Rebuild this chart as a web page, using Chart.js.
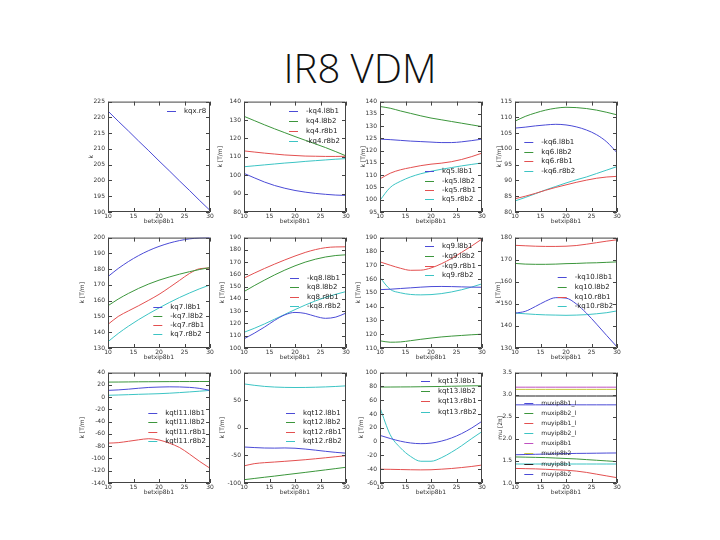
<!DOCTYPE html>
<html>
<head>
<meta charset="utf-8">
<script src="https://cdn.jsdelivr.net/npm/chart.js@4.4.0/dist/chart.umd.min.js"></script>
<style>
  body { margin: 0; background: #fff; width: 720px; height: 540px; position: relative; overflow: hidden; }
  #title { position: absolute; left: 0; width: 720px; top: 48px; text-align: center;
           font-family: "Open Sans"; font-weight: 300; font-size: 40px; line-height: 40px; color: #111; }
  canvas { position: absolute; }
</style>
</head>
<body>
<div id="title">IR8 VDM</div>
<script>
const betx = [10, 12, 14, 16, 18, 20, 22, 24, 26, 28, 30];
const xTicks = [10, 15, 20, 25, 30];

const kqxNames = ['kqx.r8'];
const kqxValues = [
  [222, 218.8, 215.7, 212.5, 209.4, 206.2, 203.1, 199.9, 196.8, 193.6, 190.5]
];

const kq4Names = ['-kq4.l8b1', 'kq4.l8b2', 'kq4.r8b1', '-kq4.r8b2'];
const kq4Values = [
  [101, 98.6, 96.3, 94.4, 92.9, 91.7, 90.8, 90.1, 89.6, 89.2, 89],
  [132, 129.7, 127.4, 125.2, 123.1, 121, 119, 117, 115, 112.8, 110.5],
  [113.2, 112.6, 112, 111.5, 111, 110.7, 110.4, 110.3, 110.2, 110.2, 110.3],
  [104.6, 105.1, 105.6, 106.1, 106.6, 107, 107.5, 107.9, 108.3, 108.7, 109]
];

const kq5Names = ['kq5.l8b1', '-kq5.l8b2', '-kq5.r8b1', 'kq5.r8b2'];
const kq5Values = [
  [124.7, 124.5, 124.2, 123.9, 123.7, 123.5, 123.3, 123.3, 123.6, 124.1, 124.7],
  [138, 137.3, 136.2, 135.2, 134.2, 133.3, 132.6, 131.9, 131.2, 130.5, 129.8],
  [108.5, 110.8, 112.2, 113.1, 113.9, 114.5, 114.9, 115.5, 116.4, 117.6, 119],
  [99.8, 105, 107.5, 109.3, 110.6, 111.6, 112.4, 113.1, 113.8, 114.4, 115]
];

const kq6Names = ['-kq6.l8b1', 'kq6.l8b2', 'kq6.r8b1', '-kq6.r8b2'];
const kq6Values = [
  [106.6, 106.9, 107.3, 107.6, 107.8, 107.6, 107, 106, 104.5, 102.2, 98.8],
  [108.8, 110.3, 111.4, 112.3, 112.9, 113.2, 113.1, 112.8, 112.3, 111.6, 110.8],
  [84.2, 85, 85.9, 86.9, 87.8, 88.6, 89.4, 90.1, 90.7, 91.1, 91.3],
  [83.5, 84.6, 85.8, 87, 88.1, 89.2, 90.2, 91.1, 92.2, 93.3, 94.4]
];

const kq7Names = ['kq7.l8b1', '-kq7.l8b2', '-kq7.r8b1', 'kq7.r8b2'];
const kq7Values = [
  [175.3, 180.4, 184.8, 188.6, 191.8, 194.4, 196.5, 198.1, 199.2, 199.8, 200],
  [156.8, 161, 164.6, 167.8, 170.6, 173, 175, 176.8, 178.4, 179.8, 181],
  [145, 150, 153.5, 156.8, 160.3, 164, 168.3, 172.8, 177.3, 180.3, 180.7],
  [134, 139.2, 143.8, 148, 151.8, 155.4, 158.8, 162, 164.9, 167.6, 170]
];

const kq8Names = ['-kq8.l8b1', 'kq8.l8b2', 'kq8.r8b1', '-kq8.r8b2'];
const kq8Values = [
  [107.5, 112, 117, 122.5, 127, 129, 128.2, 125.8, 124.2, 125.2, 128.5],
  [146, 150.8, 155.3, 159.6, 163.5, 167, 170, 172.4, 174.2, 175.4, 176],
  [157, 161, 164.8, 168.4, 171.8, 175, 177.9, 180.2, 181.8, 182.4, 182.5],
  [112.8, 116, 119.6, 123.5, 127.4, 131.3, 135, 138.4, 141.3, 143.8, 146]
];

const kq9Names = ['kq9.l8b1', '-kq9.l8b2', '-kq9.r8b1', 'kq9.r8b2'];
const kq9Values = [
  [152.3, 152.6, 153.1, 153.6, 154.1, 154.5, 154.6, 154.5, 154.3, 154.1, 154],
  [115.2, 114.2, 114.4, 115.3, 116.3, 117.2, 118, 118.6, 119.1, 119.6, 120],
  [172.4, 170, 167.8, 166.3, 166.4, 168, 171, 174.8, 179.3, 184, 189],
  [161, 152.5, 150, 148.8, 148.5, 148.7, 149.4, 150.6, 152.2, 154.2, 156.5]
];

const kq10Names = ['-kq10.l8b1', 'kq10.l8b2', 'kq10.r8b1', '-kq10.r8b2'];
const kq10Values = [
  [145.8, 146.6, 148.8, 151.2, 152.8, 152.6, 150, 145.8, 140.8, 135.6, 130.5],
  [168.3, 168, 167.9, 167.9, 168, 168.2, 168.3, 168.5, 168.6, 168.8, 169],
  [176.5, 176.3, 176.1, 176, 176, 176.1, 176.4, 177, 177.7, 178.4, 179],
  [145.8, 145.5, 145.2, 145, 144.9, 144.8, 144.9, 145.1, 145.5, 146, 146.8]
];

const kqtl11Names = ['kqtl11.l8b1', 'kqtl11.l8b2', 'kqtl11.r8b1', 'kqtl11.r8b2'];
const kqtl11Values = [
  [11, 11.8, 13, 14.5, 15.8, 16.4, 16.8, 16.6, 15.9, 14.2, 11],
  [24.5, 24.6, 24.8, 25, 25.1, 25.2, 25.3, 25.4, 25.4, 25.5, 25.5],
  [-75, -74.2, -72, -69.6, -67.8, -69.8, -75, -82, -93, -105, -116],
  [3, 3.5, 4, 4.6, 5.1, 5.6, 6.4, 7.4, 8.5, 9.7, 11]
];

const kqt12Names = ['kqt12.l8b1', 'kqt12.l8b2', 'kqt12.r8b1', 'kqt12.r8b2'];
const kqt12Values = [
  [-34.8, -35.8, -36.6, -36.8, -36.5, -37, -38.5, -40.5, -42.6, -44.5, -46],
  [-94, -91.8, -89.6, -87.5, -85.2, -83, -80.8, -78.5, -76.2, -73.9, -71.5],
  [-69, -65, -63.2, -62, -60.7, -59.3, -57.8, -56.1, -54.3, -52.4, -50.5],
  [79.5, 77, 75, 73.8, 73.2, 73, 73.1, 73.5, 74.1, 74.9, 76]
];

const kqt13Names = ['kqt13.l8b1', 'kqt13.l8b2', 'kqt13.r8b1', 'kqt13.r8b2'];
const kqt13Values = [
  [9, 4.5, 0.6, -2, -3, -2.2, 0.6, 5.2, 11.6, 19.8, 29.5],
  [79, 79.1, 79.2, 79.3, 79.5, 79.7, 79.9, 80.2, 80.5, 80.8, 81],
  [-40, -40.2, -40.5, -40.8, -41, -40.8, -40, -39, -37.6, -36, -34],
  [49, 10, -9, -21.5, -28.5, -28.5, -23.5, -15.5, -6, 4.5, 14.5]
];

const muNames = ['muxip8b1_l', 'muxip8b2_l', 'muyip8b1_l', 'muyip8b2_l',
                 'muxip8b1', 'muxip8b2', 'muyip8b1', 'muyip8b2'];
const muValues = [
  [1.64, 1.645, 1.65, 1.655, 1.66, 1.665, 1.67, 1.672, 1.675, 1.678, 1.68],
  [1.59, 1.585, 1.58, 1.575, 1.565, 1.555, 1.545, 1.53, 1.515, 1.5, 1.485],
  [1.33, 1.325, 1.32, 1.31, 1.3, 1.29, 1.27, 1.24, 1.2, 1.16, 1.12],
  [1.43, 1.43, 1.43, 1.43, 1.43, 1.43, 1.43, 1.43, 1.43, 1.43, 1.43],
  [3.17, 3.17, 3.17, 3.17, 3.17, 3.17, 3.17, 3.17, 3.17, 3.17, 3.17],
  [3.12, 3.12, 3.12, 3.12, 3.12, 3.12, 3.12, 3.12, 3.12, 3.12, 3.12],
  [2.97, 2.97, 2.97, 2.97, 2.97, 2.97, 2.97, 2.97, 2.97, 2.97, 2.97],
  [2.77, 2.77, 2.77, 2.77, 2.77, 2.77, 2.77, 2.77, 2.77, 2.77, 2.77]
];

// matplotlib's old colour cycle: b g r c m y k
const colors = ['#4b4bd6', '#3c963c', '#e35050', '#3cc4c4', '#c050c0', '#c8c83c', '#222222'];

const panels = [
  { names: kqxNames, values: kqxValues, min: 190, max: 225, step: 5, yTitle: 'k', gap: 17, leg: [59, 9, 10] },
  { names: kq4Names, values: kq4Values, min: 80, max: 140, step: 10, yTitle: 'k [T/m]', gap: 24, leg: [45, 9.7, 10] },
  { names: kq5Names, values: kq5Values, min: 95, max: 140, step: 5, yTitle: 'k [T/m]', gap: 17, leg: [45, 69.7, 9.3] },
  { names: kq6Names, values: kq6Values, min: 80, max: 115, step: 5, yTitle: 'k [T/m]', gap: 16, leg: [9.3, 40.7, 9.5] },
  { names: kq7Names, values: kq7Values, min: 130, max: 200, step: 10, yTitle: 'k [T/m]', gap: 26, leg: [45.3, 69, 9.2] },
  { names: kq8Names, values: kq8Values, min: 100, max: 190, step: 10, yTitle: 'k [T/m]', gap: 22, leg: [46, 40.3, 9.5] },
  { names: kq9Names, values: kq9Values, min: 110, max: 190, step: 10, yTitle: 'k [T/m]', gap: 22, leg: [45, 8.7, 9.7] },
  { names: kq10Names, values: kq10Values, min: 130, max: 180, step: 10, yTitle: 'k [T/m]', gap: 17, leg: [42.7, 39.7, 9.6] },
  { names: kqtl11Names, values: kqtl11Values, min: -140, max: 40, step: 20, yTitle: 'k [T/m]', gap: 26, leg: [40.3, 40.3, 9.5] },
  { names: kqt12Names, values: kqt12Values, min: -100, max: 100, step: 50, yTitle: 'k [T/m]', gap: 22, leg: [42, 40.3, 9.5] },
  { names: kqt13Names, values: kqt13Values, min: -60, max: 100, step: 20, yTitle: 'k [T/m]', gap: 19, leg: [41, 8, 10.3] },
  { names: muNames, values: muValues, min: 1.0, max: 3.5, step: 0.5, yTitle: 'mu [2\u03c0]', gap: 15, leg: [9.3, 30.3, 10.1], legFont: 6, dec: 1 }
];

const colLeft = [108, 244, 380, 515];
const rowTop = [101, 237, 372];
const plotW = 102, plotH = 111;
const yBox = 40, xBox = 13, padTop = 6, padRight = 8, padBottom = 2;
const fontFam = '"DejaVu Sans", sans-serif';

// frame + inward ticks on all four sides, like old matplotlib
const framePlugin = {
  id: 'frame',
  afterDatasetsDraw(chart) {
    const { ctx, chartArea: a, scales: { x, y } } = chart;
    ctx.save();
    ctx.strokeStyle = '#444';
    ctx.lineWidth = 1;
    ctx.beginPath();
    ctx.rect(a.left + 0.5, a.top + 0.5, a.width - 1, a.height - 1);
    x.ticks.forEach(t => {
      const px = Math.round(x.getPixelForValue(t.value)) + 0.5;
      ctx.moveTo(px, a.bottom); ctx.lineTo(px, a.bottom - 4);
      ctx.moveTo(px, a.top); ctx.lineTo(px, a.top + 4);
    });
    y.ticks.forEach(t => {
      const py = Math.round(y.getPixelForValue(t.value)) + 0.5;
      ctx.moveTo(a.left, py); ctx.lineTo(a.left + 4, py);
      ctx.moveTo(a.right, py); ctx.lineTo(a.right - 4, py);
    });
    ctx.stroke();
    ctx.restore();
  }
};

// legend drawn inside the axes, no box
const innerLegend = {
  id: 'innerLegend',
  afterDatasetsDraw(chart, args, opts) {
    const { ctx, chartArea: a } = chart;
    ctx.save();
    ctx.font = opts.size + 'px ' + fontFam;
    ctx.textBaseline = 'middle';
    chart.data.datasets.forEach((ds, i) => {
      const x = a.left + opts.dx;
      const y = Math.round(a.top + opts.dy + i * opts.row) + 0.5;
      ctx.strokeStyle = ds.borderColor;
      ctx.lineWidth = 1;
      ctx.beginPath(); ctx.moveTo(x, y); ctx.lineTo(x + 9, y); ctx.stroke();
      ctx.fillStyle = '#222';
      ctx.fillText(ds.label, x + 17, y);
    });
    ctx.restore();
  }
};

panels.forEach((p, idx) => {
  const L = colLeft[idx % 4], T = rowTop[Math.floor(idx / 4)];
  const cv = document.createElement('canvas');
  cv.width = yBox + plotW + padRight;
  cv.height = padTop + plotH + xBox + padBottom;
  cv.style.left = (L - yBox) + 'px';
  cv.style.top = (T - padTop) + 'px';
  document.body.appendChild(cv);

  const datasets = p.values.map((vals, i) => ({
    label: p.names[i],
    data: betx.map((x, j) => ({ x: x, y: vals[j] })),
    borderColor: colors[i % colors.length],
    borderWidth: 1,
    pointRadius: 0,
    fill: false,
    cubicInterpolationMode: 'monotone'
  }));

  new Chart(cv.getContext('2d'), {
    type: 'line',
    data: { datasets: datasets },
    plugins: [framePlugin, innerLegend],
    options: {
      responsive: false,
      animation: false,
      layout: { padding: { left: 0, top: padTop, right: padRight, bottom: padBottom } },
      plugins: {
        legend: { display: false },
        tooltip: { enabled: false },
        innerLegend: { dx: p.leg[0], dy: p.leg[1], row: p.leg[2], size: p.legFont || 7 }
      },
      scales: {
        x: {
          type: 'linear', min: 10, max: 30,
          afterBuildTicks: s => { s.ticks = xTicks.map(v => ({ value: v })); },
          afterFit: s => { s.height = xBox; },
          grid: { display: false, drawTicks: false },
          border: { display: false },
          ticks: { font: { size: 6, family: fontFam }, color: '#333', padding: 1, maxRotation: 0, autoSkip: false },
          title: { display: true, text: 'betxip8b1', font: { size: 6, family: fontFam }, color: '#333', padding: 0 }
        },
        y: {
          type: 'linear', min: p.min, max: p.max,
          afterFit: s => { s.width = yBox; },
          grid: { display: false, drawTicks: false },
          border: { display: false },
          ticks: {
            stepSize: p.step, padding: 3, font: { size: 6, family: fontFam }, color: '#333',
            callback: v => p.dec ? v.toFixed(p.dec) : v
          },
          title: {
            display: true, text: p.yTitle, font: { size: 6, family: fontFam }, color: '#333',
            padding: { top: yBox - p.gap - 3.6, bottom: 0 }
          }
        }
      }
    }
  });
});
</script>
</body>
</html>
